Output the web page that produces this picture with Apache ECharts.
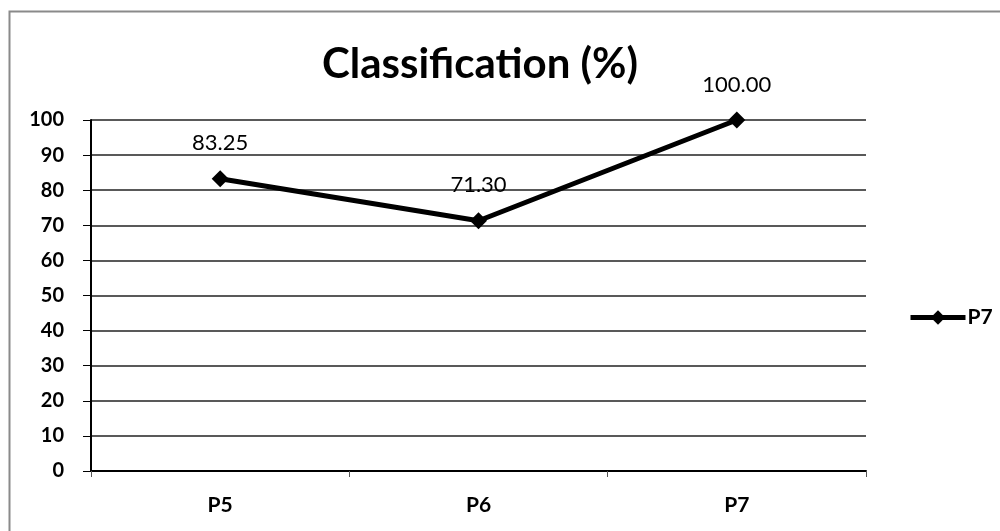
<!DOCTYPE html>
<html><head><meta charset="utf-8">
<script src="https://cdn.jsdelivr.net/npm/echarts@6/dist/echarts.min.js"></script>
<style>html,body{margin:0;padding:0;background:#fff}#c{width:1000px;height:531px}</style>
</head><body><div id="c"></div>
<script>
const categories = ['P5', 'P6', 'P7'];
const values = [83.25, 71.30, 100.00];
const seriesName = 'P7';
const titleText = 'Classification (%)';
const FONT = 'Lato';

const chart = echarts.init(document.getElementById('c'), null, {renderer: 'canvas'});
chart.setOption({
  animation: false,
  backgroundColor: '#fff',
  graphic: [{
    type: 'rect', shape: {x: 9.5, y: 11.5, width: 1100, height: 700},
    style: {fill: 'none', stroke: '#8a8a8a', lineWidth: 2}, silent: true
  }],
  title: {
    text: titleText, left: 475, top: 38, textAlign: 'center',
    textStyle: {fontFamily: FONT, fontWeight: 'bold', fontSize: 42, color: '#000'}
  },
  legend: {
    data: [seriesName], left: 903, top: 302, itemWidth: 55, itemHeight: 18, itemGap: 3,
    lineStyle: {width: 5, color: '#000'},
    textStyle: {fontFamily: FONT, fontWeight: 'bold', fontSize: 21, color: '#000', padding: [0, 0, 0, -3]}
  },
  grid: {left: 91, right: 134, top: 120, bottom: 60, containLabel: false},
  xAxis: {
    type: 'category', data: categories, boundaryGap: true,
    axisLine: {lineStyle: {color: '#000', width: 2}},
    axisTick: {show: true, length: 6, lineStyle: {color: '#555', width: 1}},
    axisLabel: {fontFamily: FONT, fontWeight: 'bold', fontSize: 21, color: '#000', margin: 24},
    splitLine: {show: false}
  },
  yAxis: {
    type: 'value', min: 0, max: 100, interval: 10,
    axisLine: {show: true, lineStyle: {color: '#000', width: 2}},
    axisTick: {show: true, inside: false, length: 8, lineStyle: {color: '#000', width: 1}},
    axisLabel: {fontFamily: FONT, fontWeight: 'bold', fontSize: 20, color: '#000', margin: 27},
    splitLine: {show: true, lineStyle: {color: '#222', width: 1.5}}
  },
  series: [{
    name: seriesName, type: 'line', data: values,
    symbol: 'diamond', symbolSize: 17,
    lineStyle: {color: '#000', width: 5},
    itemStyle: {color: '#000'},
    label: {
      show: true, position: 'top', distance: 16,
      formatter: p => p.value.toFixed(2),
      fontFamily: FONT, fontSize: 22, color: '#000'
    }
  }]
});
</script></body></html>
